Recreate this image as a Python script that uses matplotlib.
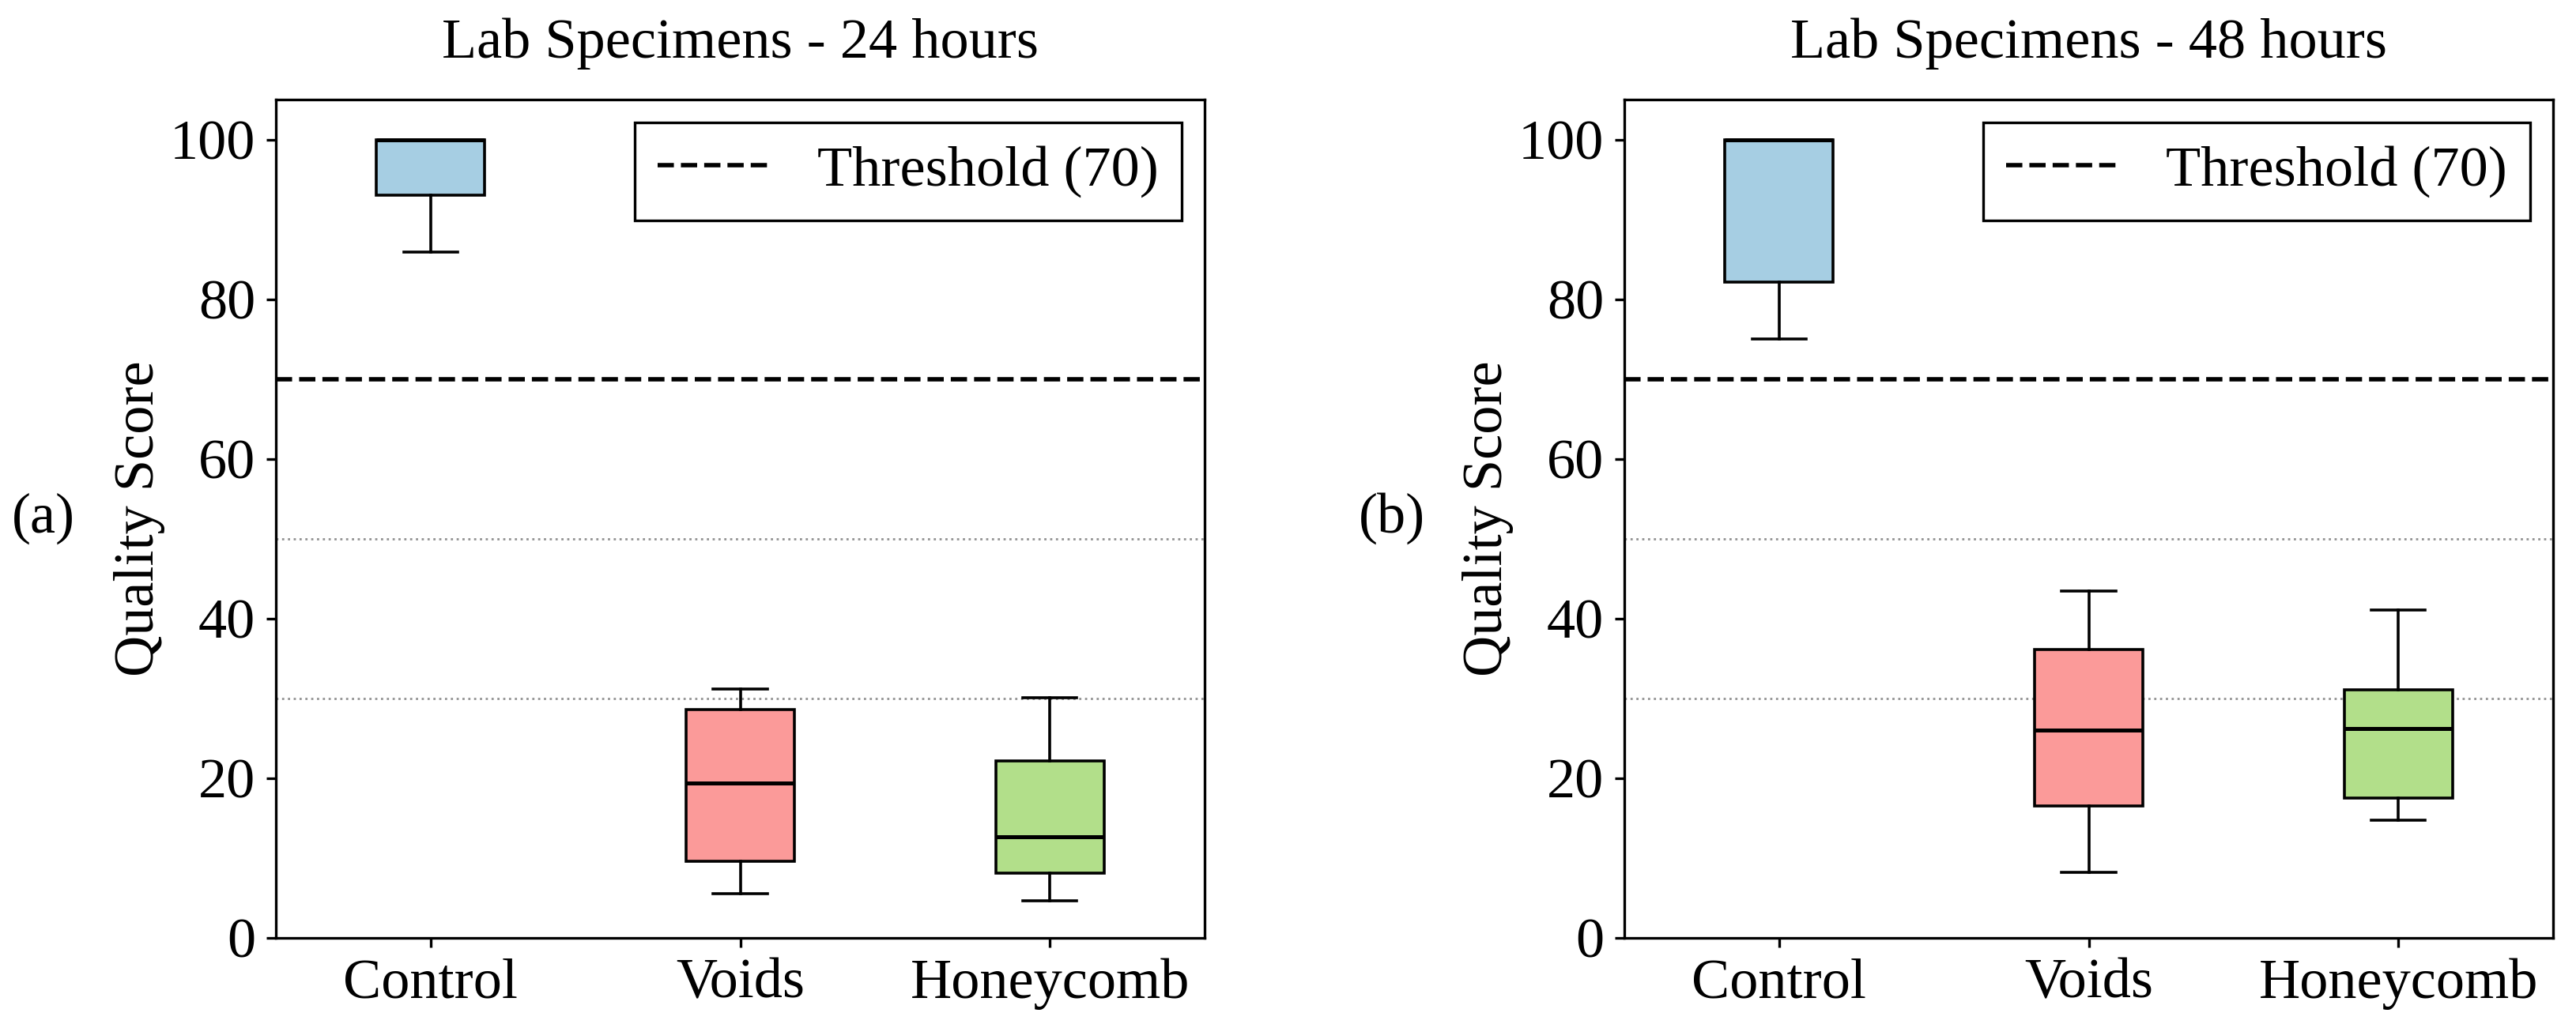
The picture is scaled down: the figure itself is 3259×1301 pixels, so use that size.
import matplotlib
matplotlib.use("Agg")
import matplotlib.pyplot as plt

plt.rcParams['font.family'] = ['Liberation Serif', 'DejaVu Serif']

categories = ["Control", "Voids", "Honeycomb"]
colors = ["#a6cee3", "#fb9a99", "#b2df8a"]
panel_titles = ["Lab Specimens - 24 hours", "Lab Specimens - 48 hours"]
panel_tags = ["(a)", "(b)"]

# five-number summaries per panel: whislo, q1, med, q3, whishi
whislo_24 = [85.9, 5.5, 4.65]
q1_24 = [93.0, 9.6, 8.1]
med_24 = [100.0, 19.4, 12.7]
q3_24 = [100.0, 28.6, 22.2]
whishi_24 = [100.0, 31.2, 30.1]

whislo_48 = [75.0, 8.2, 14.7]
q1_48 = [82.1, 16.5, 17.5]
med_48 = [100.0, 26.0, 26.2]
q3_48 = [100.0, 36.1, 31.1]
whishi_48 = [100.0, 43.4, 41.1]

threshold = 70
ref_lines = [30, 50]
yticks = [0, 20, 40, 60, 80, 100]

panels = [
    (whislo_24, q1_24, med_24, q3_24, whishi_24),
    (whislo_48, q1_48, med_48, q3_48, whishi_48),
]

W, H, DPI = 3259, 1301, 200
fig = plt.figure(figsize=(W / DPI, H / DPI), dpi=DPI)
lefts = [349, 2055]
axw, bottom, top = 1175, 1187, 126

FS = 26
for i, (lo, q1, med, q3, hi) in enumerate(panels):
    ax = fig.add_axes([lefts[i] / W, 1 - bottom / H, axw / W, (bottom - top) / H])
    stats = []
    for j, c in enumerate(categories):
        stats.append(dict(label=c, whislo=lo[j], q1=q1[j], med=med[j], q3=q3[j],
                          whishi=hi[j], fliers=[]))
    bp = ax.bxp(stats, positions=[1, 2, 3], widths=0.35, patch_artist=True,
                showfliers=False,
                boxprops=dict(linewidth=1.3, edgecolor='black'),
                medianprops=dict(color='black', linewidth=1.8),
                whiskerprops=dict(color='black', linewidth=1.3),
                capprops=dict(color='black', linewidth=1.3))
    for patch, col in zip(bp['boxes'], colors):
        patch.set_facecolor(col)
    for r in ref_lines:
        ax.axhline(r, color='gray', linestyle=':', linewidth=1.0, alpha=0.85, zorder=0)
    ax.axhline(threshold, color='black', linestyle='--', linewidth=2.0,
               label=f"Threshold ({threshold})")
    ax.set_xlim(0.5, 3.5)
    ax.set_ylim(0, 105)
    ax.set_yticks(yticks)
    ax.set_xticks([1, 2, 3])
    ax.set_xticklabels(categories)
    ax.tick_params(axis='both', labelsize=FS, length=4.3, width=1.2, pad=5)
    for s in ax.spines.values():
        s.set_linewidth(1.2)
    ax.set_ylabel("Quality Score", fontsize=FS, labelpad=2)
    ax.set_title(panel_titles[i], fontsize=FS, pad=19)
    leg = ax.legend(loc='upper right', fontsize=FS, fancybox=False, framealpha=1,
                    edgecolor='black', borderaxespad=0.4)
    leg.get_frame().set_linewidth(1.2)
    ax.text(-0.25, 0.5, panel_tags[i], transform=ax.transAxes, fontsize=FS,
            ha='center', va='center')

fig.savefig("out.png", dpi=DPI)
